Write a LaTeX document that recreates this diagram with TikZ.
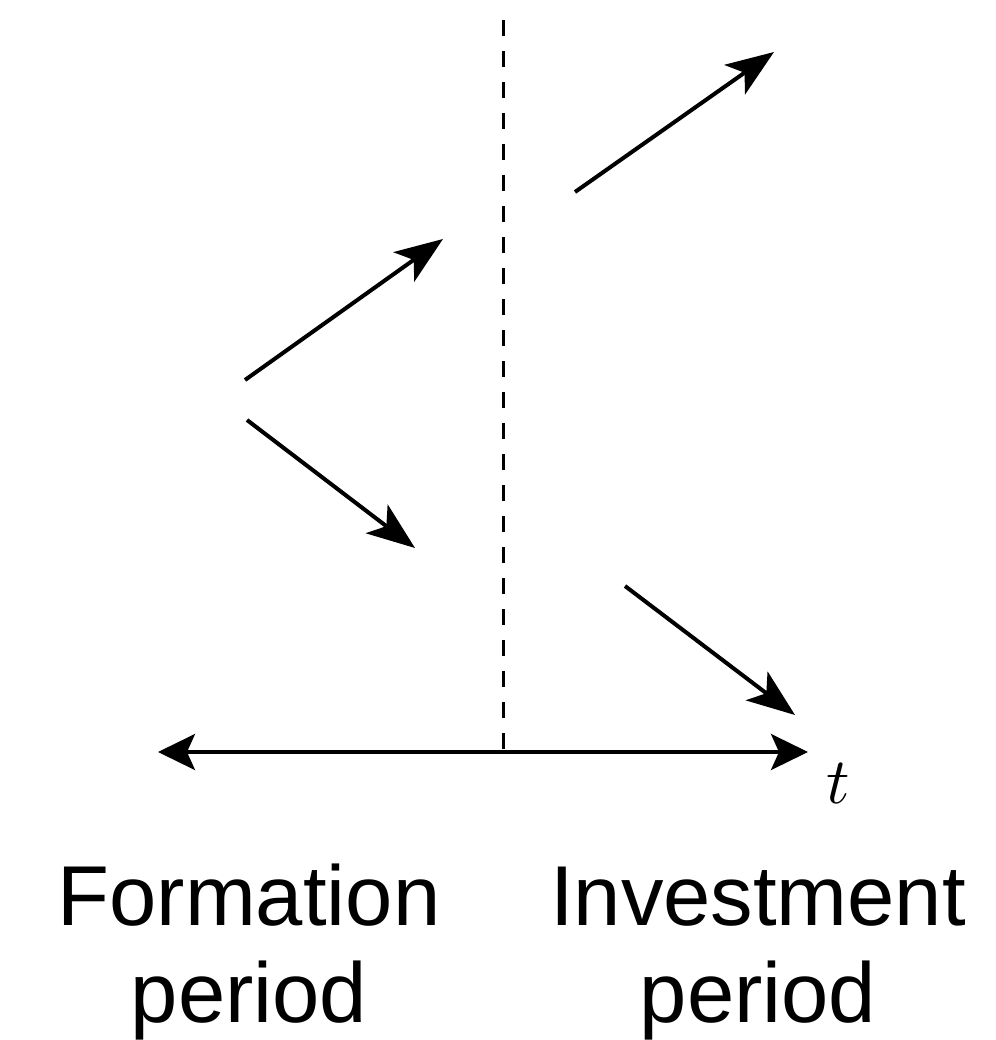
\documentclass[tikz,border=0pt]{standalone}
\usepackage{fontspec}
\setmainfont{Liberation Sans}
\usetikzlibrary{arrows.meta}
\tikzset{
  diagarrow/.style={line width=4pt, -{Stealth[length=48pt, width=36pt, inset=12pt]}},
  axisline/.style={line width=3.5pt, {Stealth[length=37pt, width=36pt, inset=8pt]}-{Stealth[length=37pt, width=36pt, inset=8pt]}},
  divider/.style={line width=3pt, dash pattern=on 16pt off 15pt},
  label/.style={font=\fontsize{85}{97}\selectfont, align=center, inner sep=0pt},
}
\begin{document}
\begin{tikzpicture}[x=1pt,y=-1pt]
\useasboundingbox (0,0) rectangle (995,1040);
% coordinates
\coordinate (axL) at (158,752);
\coordinate (axR) at (808,752);
\coordinate (divTop) at (503,20);
\coordinate (divBot) at (503,752);
\coordinate (a1s) at (245,380);
\coordinate (a1e) at (443,239);
\coordinate (a2s) at (247,420);
\coordinate (a2e) at (415,548);
\coordinate (a3s) at (575,192);
\coordinate (a3e) at (774,52);
\coordinate (a4s) at (625,586);
\coordinate (a4e) at (795,715);
% lines
\draw[divider] (divTop) -- (divBot);
\draw[axisline] (axL) -- (axR);
\draw[diagarrow] (a1s) -- (a1e);
\draw[diagarrow] (a2s) -- (a2e);
\draw[diagarrow] (a3s) -- (a3e);
\draw[diagarrow] (a4s) -- (a4e);
% labels
\node[inner sep=0pt, anchor=base, scale=6.5] (tlab) at (838,803) {$t$};
\node[label, anchor=base] (form) at (249,1022) {Formation\\period};
\node[label, anchor=base] (inv) at (758,1022) {Investment\\period};
\end{tikzpicture}
\end{document}
